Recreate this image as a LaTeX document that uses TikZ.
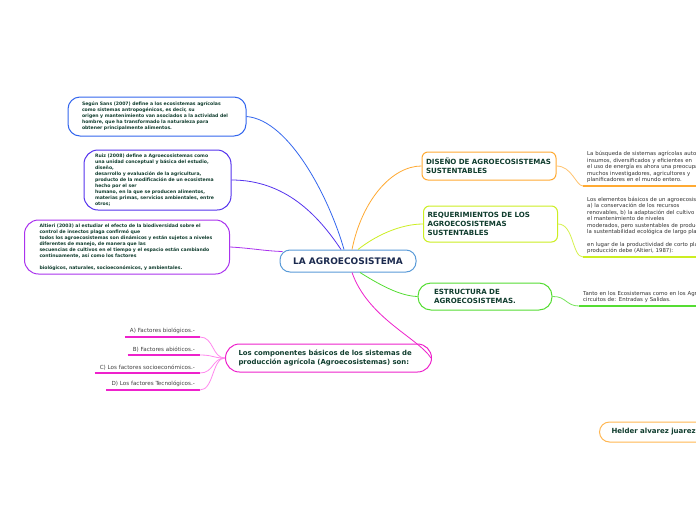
\documentclass[tikz,border=0pt]{standalone}
\usepackage{fontspec}
\setmainfont{DejaVu Sans}
\usetikzlibrary{positioning}
\definecolor{txt}{HTML}{103D2E}
\definecolor{navy}{HTML}{1B2A4E}
\definecolor{cmain}{HTML}{5A9BD8}
\definecolor{cblue}{HTML}{3366EE}
\definecolor{cindigo}{HTML}{5533EE}
\definecolor{cviolet}{HTML}{AA33EE}
\definecolor{corange}{HTML}{FFAA33}
\definecolor{cyellow}{HTML}{CCEE22}
\definecolor{cgreen}{HTML}{55DD33}
\definecolor{cmagenta}{HTML}{EE22CC}
\definecolor{cpink}{HTML}{FF88EE}

\begin{document}
\begin{tikzpicture}[x=1pt,y=-1pt,
  topic/.style={draw,fill=white,line width=1pt,rounded corners=12pt,align=left,text=txt,
    font=\bfseries\fontsize{4.6}{6}\selectfont},
  head/.style={topic,rounded corners=6pt,font=\bfseries\fontsize{7.1}{8.6}\selectfont},
  leaf/.style={align=left,text=black!80,inner xsep=4pt,inner ysep=3pt,text width=200pt,
    font=\fontsize{5.4}{6.5}\selectfont},
  sub/.style={align=right,text=black!75,inner xsep=5pt,inner ysep=3pt,font=\fontsize{5.6}{6}\selectfont},
  uline/.style={line width=1.6pt},
  link/.style={line width=0.8pt}]
\fill[white](0,0)rectangle(696,520);
\useasboundingbox(0,0)rectangle(696,520);
\clip(0,0)rectangle(696,520);
% centre
\node[topic,draw=cmain,text=navy,rounded corners=10pt,minimum width=136pt,minimum height=22pt,align=center,
  font=\bfseries\fontsize{9}{10}\selectfont](c) at(348,261){LA AGROECOSISTEMA};
% left branches
\node[topic,draw=cblue,text width=150pt,inner xsep=14pt,minimum height=39pt](s1) at(157,116.5){Según Sans (2007) define a los ecosistemas agrícolas\\como sistemas antropogénicos, es decir, su\\origen y mantenimiento van asociados a la actividad del\\hombre, que ha transformado la naturaleza para\\obtener principalmente alimentos.};
\node[topic,draw=cindigo,rounded corners=14pt,text width=125pt,inner xsep=11pt,minimum height=60pt](s2) at(157.5,180){Ruiz (2008) define a Agroecosistemas como\\una unidad conceptual y básica del estudio,\\diseño,\\desarrollo y evaluación de la agricultura,\\producto de la modificación de un ecosistema\\hecho por el ser\\humano, en la que se producen alimentos,\\materias primas, servicios ambientales, entre\\otros;};
\node[topic,draw=cviolet,rounded corners=14pt,text width=175pt,inner xsep=15pt,minimum height=54pt](s3) at(127,247){Altieri (2003) al estudiar el efecto de la biodiversidad sobre el\\control de insectos plaga confirmó que\\todos los agroecosistemas son dinámicos y están sujetos a niveles\\diferentes de manejo, de manera que las\\secuencias de cultivos en el tiempo y el espacio están cambiando\\continuamente, así como los factores\\[6pt]biológicos, naturales, socioeconómicos, y ambientales.};
% right branches
\node[head,draw=corange,text width=126pt,inner xsep=4pt,minimum height=28pt](d) at(489,166){DISEÑO DE AGROECOSISTEMAS\\SUSTENTABLES};
\node[head,draw=cyellow,text width=126pt,inner xsep=4pt,minimum height=36pt](r) at(490.5,224){REQUERIMIENTOS DE LOS\\AGROECOSISTEMAS\\SUSTENTABLES};
\node[head,draw=cgreen,rounded corners=13pt,text width=102pt,inner xsep=16pt,minimum height=27pt](e) at(485,296.5){ESTRUCTURA DE\\AGROECOSISTEMAS.};
\node[head,draw=cmagenta,rounded corners=14pt,text width=180pt,inner xsep=13pt,minimum height=28pt,
  font=\bfseries\fontsize{6.9}{8.2}\selectfont](k) at(328.5,358){Los componentes básicos de los sistemas de\\producción agrícola (Agroecosistemas) son:};
\node[head,draw=corange!85,rounded corners=10pt,inner xsep=12pt,minimum height=20pt,anchor=west,
  font=\bfseries\fontsize{7}{8}\selectfont](h) at(599,432){Helder alvarez juarez};
% leaves
\node[leaf,anchor=south west](ld) at(583,186){La búsqueda de sistemas agrícolas autosuficientes, de bajos\\insumos, diversificados y eficientes en\\el uso de energía es ahora una preocupación de\\muchos investigadores, agricultores y\\planificadores en el mundo entero.};
\node[leaf,anchor=south west](lr) at(583,257){Los elementos básicos de un agroecosistema sustentable son\\a) la conservación de los recursos\\renovables, b) la adaptación del cultivo al medio ambiente\\el mantenimiento de niveles\\moderados, pero sustentables de productividad\\la sustentabilidad ecológica de largo plazo\\[6pt]en lugar de la productividad de corto plazo, el sistema de\\producción debe (Altieri, 1987):};
\node[leaf,anchor=south west](le) at(579,306){Tanto en los Ecosistemas como en los Agroecosistemas existen\\circuitos de: Entradas y Salidas.};
\draw[uline,corange](ld.south west)--(ld.south east);
\draw[uline,cyellow](lr.south west)--(lr.south east);
\draw[uline,cgreen](le.south west)--(le.south east);
% factores
\foreach \n/\y/\t in {f1/337/{A) Factores biológicos.-},f2/355/{B) Factores abióticos.-},
  f3/373/{C) Los factores socioeconómicos.-},f4/390/{D) Los factores Tecnológicos.-}}{
  \node[sub,anchor=south east](\n) at(200,\y){\t};
  \draw[uline,cmagenta](\n.south west)--(\n.south east);
  \draw[link,cpink](k.west)..controls(212,358)and(214,\y)..(\n.south east);
}
% connectors
\draw[link,cblue](s1.east)..controls(290,120)and(330,200)..([xshift=-4pt]c.north);
\draw[link,cindigo](s2.east)..controls(285,180)and(318,215)..([xshift=-7pt]c.north);
\draw[link,cviolet](s3.east)..controls(250,248)and(265,251)..([xshift=3pt,yshift=-2pt]c.north west);
\draw[link,corange](d.west)..controls(392,166)and(362,200)..([xshift=4pt]c.north);
\draw[link,cyellow](r.west)..controls(400,224)and(375,236)..([xshift=10pt]c.north);
\draw[link,cgreen]([xshift=12pt]c.south)..controls(380,285)and(400,296)..(e.west);
\draw[link,cmagenta]([xshift=4pt]c.south)..controls(368,318)and(418,338)..([xshift=-1pt]k.east);
\draw[link,corange!70](d.east)..controls(572,166)and(576,186)..(ld.south west);
\draw[link,cyellow!80](r.east)..controls(574,224)and(572,257)..(lr.south west);
\draw[link,cgreen!80](e.east)..controls(566,296)and(566,306)..(le.south west);
\end{tikzpicture}
\end{document}
